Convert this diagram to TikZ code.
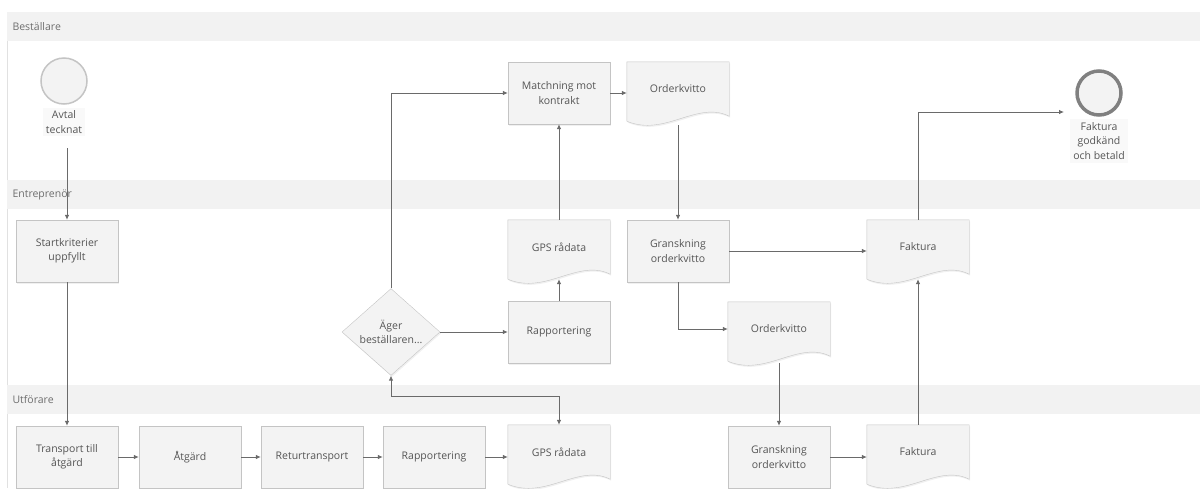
\documentclass[tikz,border=0pt]{standalone}
\usepackage{fontspec}
\setmainfont{Open Sans}
\usetikzlibrary{arrows.meta,shapes.geometric,calc,shadows}
\definecolor{boxfill}{HTML}{F3F3F3}
\definecolor{boxline}{HTML}{C4C4C4}
\definecolor{txtgray}{HTML}{555555}
\definecolor{linegray}{HTML}{6A6A6A}
\definecolor{lanefill}{HTML}{F2F2F2}
\pgfdeclarelayer{bg}
\pgfsetlayers{bg,main}
\begin{document}
\begin{tikzpicture}[x=1pt,y=-1pt,
    font=\fontsize{10.5}{14.5}\selectfont,
    every node/.style={text=txtgray,align=center},
    task/.style={rectangle,draw=boxline,fill=boxfill,minimum width=102pt,minimum height=62pt,
      inner sep=2pt,drop shadow={opacity=.12,shadow xshift=1pt,shadow yshift=-1.5pt}},
    doc/.style={rectangle,minimum width=102pt,minimum height=54pt,inner sep=2pt},
    docshape/.style={draw=boxline,fill=boxfill,drop shadow={opacity=.12,shadow xshift=1pt,shadow yshift=-1.5pt}},
    flow/.style={draw=linegray,line width=.8pt,-{Latex[length=5pt,width=4.5pt]}}]
  \useasboundingbox (0,0) rectangle (1200,488);
  % swimlanes
  \foreach \y/\name [count=\i] in {12/Beställare,180/Entreprenör,385/Utförare}{
    \fill[lanefill] (7,\y) rectangle (1200,\y+29);
    \node[anchor=west,text=txtgray!85] (lane\i) at (9,\y+14.5) {\name};
  }
  \draw[boxline!50] (7,41) -- (7,180) (7,209) -- (7,385) (7,414) -- (7,488);

  % Beställare
  \node[circle,draw=boxline,fill=boxfill,line width=1.5pt,minimum size=46pt] (start) at (64,81) {};
  \node[fill=boxfill!50,inner sep=3pt] (startlbl) at (64,122) {Avtal\\tecknat};
  \node[task] (match) at (559,93) {Matchning mot\\kontrakt};
  \node[doc] (ok1) at (678,89) {Orderkvitto};
  \node[circle,draw=linegray!85,fill=boxfill,line width=3.5pt,minimum size=44pt] (end) at (1099,93) {};
  \node[fill=boxfill!50,inner sep=3pt] (endlbl) at (1099,141) {Faktura\\godkänd\\och betald};
  \coordinate (endin) at (1064,112);

  % Entreprenör
  \node[task] (sk) at (67,251) {Startkriterier\\uppfyllt};
  \node[doc] (gps2) at (559,247) {GPS rådata};
  \node[task] (gr1) at (678,251) {Granskning\\orderkvitto};
  \node[doc] (fak1) at (918,247) {Faktura};
  \node[diamond,draw=boxline,fill=boxfill,minimum width=98pt,minimum height=73pt,inner sep=0pt,
    drop shadow={opacity=.12,shadow xshift=1pt,shadow yshift=-1.5pt}] (dia) at (391,332) {Äger\\beställaren...};
  \node[task] (rap2) at (559,332) {Rapportering};
  \node[doc] (ok2) at (779,329) {Orderkvitto};

  % Utförare
  \node[task] (tr) at (67,457) {Transport till\\åtgärd};
  \node[task] (atg) at (190,457) {Åtgärd};
  \node[task] (ret) at (312,457) {Returtransport};
  \node[task] (rap1) at (434,457) {Rapportering};
  \node[doc] (gps1) at (559,452) {GPS rådata};
  \node[task] (gr2) at (779,457) {Granskning\\orderkvitto};
  \node[doc] (fak2) at (918,452) {Faktura};

  % document outlines
  \begin{pgfonlayer}{bg}
    \foreach \d in {ok1,gps2,fak1,ok2,gps1,fak2}
    \draw[docshape] (\d.north west) -- (\d.north east) -- (\d.south east)
      .. controls +(-32,-16) and +(38,16) .. ($(\d.south west)+(0,5)$) -- cycle;
  \end{pgfonlayer}

  % flows
  \draw[flow,shorten <=12pt] (sk.north |- startlbl.south) -- (sk.north);
  \draw[flow] (sk) -- (tr);
  \draw[flow] (tr) -- (atg);
  \draw[flow] (atg) -- (ret);
  \draw[flow] (ret) -- (rap1);
  \draw[flow] (rap1) -- (rap1 -| gps1.west);
  \draw[flow,{Latex[length=5pt,width=4.5pt]}-{Latex[length=5pt,width=4.5pt]}] (gps1.north) -- ++(0,-28) -| (dia.south);
  \draw[flow] (dia) -- (rap2);
  \draw[flow] (dia.north) |- (match.west);
  \draw[flow,shorten >=5pt] (rap2) -- (gps2);
  \draw[flow] (gps2) -- (match);
  \draw[flow] (match) -- (match -| ok1.west);
  \draw[flow,shorten <=9pt] (ok1) -- (gr1);
  \draw[flow] (gr1) -- (gr1 -| fak1.west);
  \draw[flow] (gr1.south) |- (ok2.west);
  \draw[flow,shorten <=7pt] (ok2) -- (gr2);
  \draw[flow] (gr2) -- (gr2 -| fak2.west);
  \draw[flow,shorten >=5pt] (fak2) -- (fak1);
  \draw[flow] (fak1.north) |- (endin);
\end{tikzpicture}
\end{document}
